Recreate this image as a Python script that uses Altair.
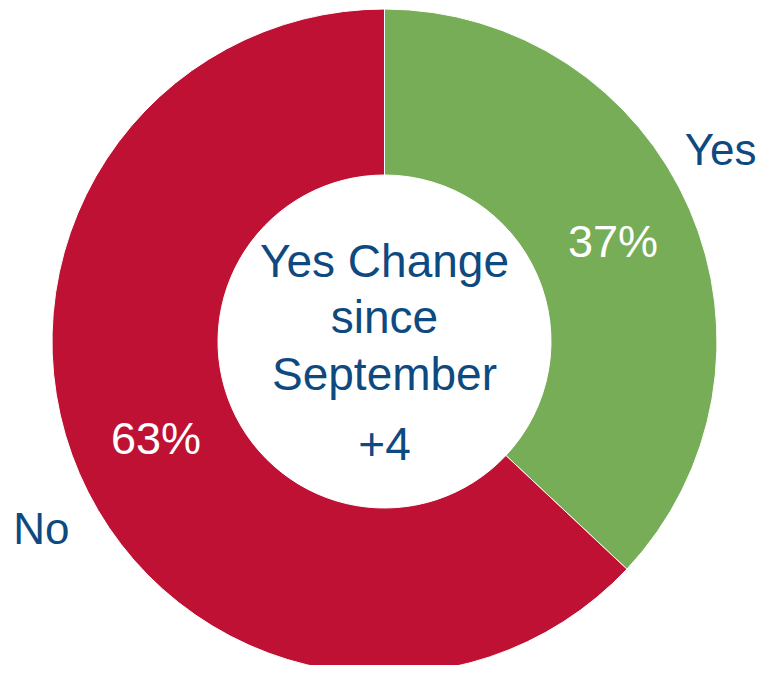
import altair as alt
import pandas as pd

categories = ["Yes", "No"]
values = [37, 63]
pct_labels = ["37%", "63%"]
order = [0, 1]
colors = ["#77AD56", "#BE1134"]
center_lines = ["Yes Change", "since", "September"]
center_change = "+4"

TEXT = "#0E4A80"
FONT = "Liberation Sans"
W, H = 754, 657
CX, CY = 376.5, 333.5

df = pd.DataFrame({"cat": categories, "value": values, "pct": pct_labels, "ord": order})

base = alt.Chart(df).encode(
    theta=alt.Theta("value:Q", stack=True),
    order=alt.Order("ord:Q"),
)

arcs = base.mark_arc(outerRadius=332.5, innerRadius=166.5, stroke="white", strokeWidth=1).encode(
    color=alt.Color("cat:N", scale=alt.Scale(domain=categories, range=colors), legend=None),
    x=alt.value(CX), y=alt.value(CY),
)

pcts = base.mark_text(font=FONT, fontSize=45, color="white", align="center", baseline="middle").encode(
    text="pct:N", radius=alt.value(249), x=alt.value(CX), y=alt.value(CY),
)

outer_yes = base.mark_text(font=FONT, fontSize=44, color=TEXT, align="center", baseline="middle",
                           thetaOffset=-0.096, dx=-7).encode(
    text="cat:N", radius=alt.value(392), x=alt.value(CX), y=alt.value(CY),
    opacity=alt.condition(alt.datum.cat == "Yes", alt.value(1), alt.value(0)),
)

outer_no = base.mark_text(font=FONT, fontSize=44, color=TEXT, align="center", baseline="middle",
                          thetaOffset=-0.096).encode(
    text="cat:N", radius=alt.value(392), x=alt.value(CX), y=alt.value(CY),
    opacity=alt.condition(alt.datum.cat == "No", alt.value(1), alt.value(0)),
)

center_df = pd.DataFrame({"t": [center_lines]})
center = alt.Chart(center_df).mark_text(
    font=FONT, fontSize=46, color=TEXT, align="center", baseline="alphabetic", lineHeight=56.6
).encode(text="t", x=alt.value(CX), y=alt.value(CY - 64.8))

change = alt.Chart(pd.DataFrame({"t": [center_change]})).mark_text(
    font=FONT, fontSize=46, color=TEXT, align="center", baseline="alphabetic"
).encode(text="t:N", x=alt.value(CX), y=alt.value(CY + 118.5))

chart = alt.layer(arcs, pcts, outer_yes, outer_no, center, change).properties(
    width=W, height=H, padding=0, autosize=alt.AutoSizeParams(type="none")
).configure_view(stroke=None)

chart.save("out.html", embed_options={"renderer": "svg", "actions": False})
